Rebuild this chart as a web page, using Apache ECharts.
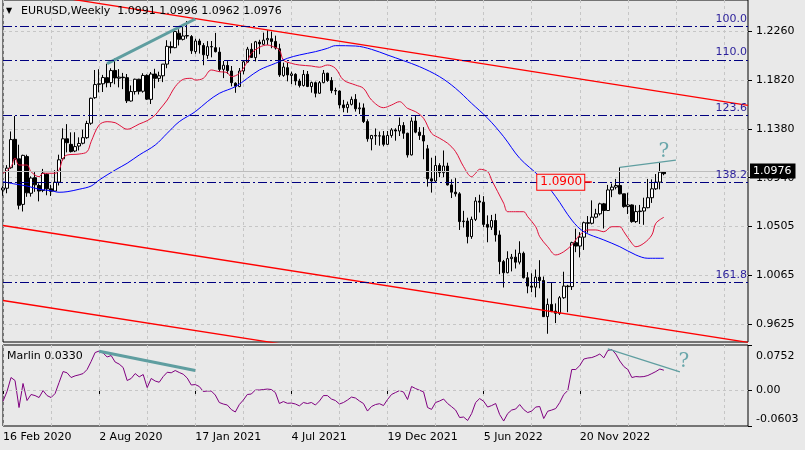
<!DOCTYPE html>
<html><head><meta charset="utf-8">
<script src="https://cdn.jsdelivr.net/npm/echarts@6/dist/echarts.min.js"></script>
<style>html,body{margin:0;padding:0;background:#e9e9e9}#c{width:805px;height:450px}</style>
</head><body><div id="c"></div><script>
// Weekly EURUSD candles [open, high, low, close], first bar = 16 Feb 2020
const ohlc = [
[1.0830,1.0864,1.0778,1.0847],[1.0845,1.1053,1.0800,1.1026],[1.1030,1.1356,1.1020,1.1283],[1.1285,1.1495,1.1055,1.1106],
[1.1110,1.1237,1.0655,1.0692],[1.0700,1.1147,1.0636,1.1141],[1.1130,1.1147,1.0768,1.0804],[1.0800,1.0952,1.0770,1.0937],
[1.0940,1.0990,1.0813,1.0876],[1.0870,1.0889,1.0727,1.0820],[1.0825,1.1019,1.0810,1.0980],[1.0970,1.0980,1.0782,1.0840],
[1.0840,1.0876,1.0775,1.0818],[1.0820,1.1008,1.0815,1.0900],[1.0900,1.1147,1.0870,1.1101],[1.1110,1.1384,1.1095,1.1290],
[1.1290,1.1422,1.1168,1.1255],[1.1240,1.1348,1.1167,1.1175],[1.1180,1.1349,1.1170,1.1220],[1.1225,1.1303,1.1185,1.1248],
[1.1250,1.1372,1.1240,1.1300],[1.1300,1.1452,1.1290,1.1428],[1.1430,1.1660,1.1416,1.1655],[1.1660,1.1909,1.1650,1.1778],
[1.1780,1.1916,1.1708,1.1785],[1.1785,1.1865,1.1711,1.1841],[1.1840,1.1966,1.1753,1.1795],[1.1795,1.1925,1.1755,1.1904],
[1.1905,1.2011,1.1781,1.1838],[1.1835,1.1917,1.1753,1.1845],[1.1845,1.1883,1.1737,1.1840],[1.1840,1.1873,1.1612,1.1632],
[1.1630,1.1770,1.1625,1.1715],[1.1715,1.1831,1.1688,1.1826],[1.1826,1.1830,1.1689,1.1718],[1.1718,1.1880,1.1705,1.1860],
[1.1860,1.1870,1.1640,1.1647],[1.1645,1.1891,1.1603,1.1873],[1.1873,1.1920,1.1745,1.1834],[1.1834,1.1894,1.1802,1.1857],
[1.1857,1.1963,1.1800,1.1962],[1.1962,1.2177,1.1925,1.2122],[1.2120,1.2166,1.2058,1.2110],[1.2110,1.2273,1.2105,1.2255],
[1.2240,1.2275,1.2130,1.2185],[1.2185,1.2310,1.2175,1.2215],[1.2215,1.2349,1.2191,1.2219],[1.2210,1.2223,1.2054,1.2082],
[1.2075,1.2190,1.2055,1.2170],[1.2170,1.2190,1.2057,1.2136],[1.2130,1.2151,1.1952,1.2046],[1.2040,1.2169,1.2010,1.2119],
[1.2120,1.2170,1.2023,1.2117],[1.2110,1.2243,1.2067,1.2074],[1.2070,1.2113,1.1894,1.1915],[1.1915,1.1990,1.1836,1.1952],
[1.1950,1.1989,1.1874,1.1904],[1.1900,1.1945,1.1762,1.1795],[1.1790,1.1798,1.1704,1.1763],[1.1760,1.1927,1.1755,1.1900],
[1.1900,1.1995,1.1870,1.1983],[1.1980,1.2117,1.1975,1.2097],[1.2095,1.2150,1.2017,1.2022],[1.2020,1.2171,1.1986,1.2163],
[1.2160,1.2181,1.2051,1.2144],[1.2140,1.2245,1.2135,1.2178],[1.2180,1.2266,1.2135,1.2193],[1.2190,1.2255,1.2105,1.2166],
[1.2166,1.2218,1.2093,1.2107],[1.2100,1.2145,1.1847,1.1865],[1.1860,1.1975,1.1848,1.1936],[1.1930,1.1975,1.1807,1.1865],
[1.1860,1.1895,1.1782,1.1874],[1.1870,1.1880,1.1772,1.1810],[1.1810,1.1830,1.1752,1.1770],[1.1770,1.1909,1.1760,1.1869],
[1.1870,1.1900,1.1755,1.1761],[1.1760,1.1805,1.1705,1.1796],[1.1795,1.1805,1.1663,1.1700],[1.1700,1.1810,1.1695,1.1795],
[1.1795,1.1909,1.1790,1.1880],[1.1880,1.1885,1.1802,1.1815],[1.1815,1.1845,1.1700,1.1725],[1.1725,1.1750,1.1685,1.1720],
[1.1720,1.1725,1.1563,1.1595],[1.1595,1.1640,1.1529,1.1570],[1.1570,1.1625,1.1524,1.1600],[1.1600,1.1670,1.1590,1.1645],
[1.1645,1.1692,1.1535,1.1560],[1.1560,1.1616,1.1513,1.1568],[1.1568,1.1608,1.1432,1.1445],[1.1445,1.1465,1.1264,1.1290],
[1.1290,1.1325,1.1186,1.1320],[1.1320,1.1383,1.1235,1.1315],[1.1315,1.1355,1.1228,1.1317],[1.1317,1.1360,1.1222,1.1240],
[1.1240,1.1360,1.1235,1.1320],[1.1320,1.1386,1.1300,1.1370],[1.1370,1.1385,1.1273,1.1360],[1.1360,1.1482,1.1315,1.1410],
[1.1410,1.1440,1.1290,1.1340],[1.1340,1.1345,1.1121,1.1145],[1.1145,1.1483,1.1140,1.1450],[1.1450,1.1495,1.1340,1.1350],
[1.1350,1.1395,1.1280,1.1320],[1.1320,1.1395,1.1106,1.1270],[1.1200,1.1235,1.0860,1.0930],[1.0930,1.1120,1.0806,1.0910],
[1.0910,1.1137,1.0900,1.1050],[1.1050,1.1070,1.0945,1.0985],[1.0985,1.1185,1.0945,1.1045],[1.1045,1.1075,1.0870,1.0875],
[1.0875,1.0925,1.0757,1.0810],[1.0810,1.0936,1.0770,1.0795],[1.0795,1.0810,1.0470,1.0545],[1.0545,1.0642,1.0492,1.0550],
[1.0550,1.0580,1.0349,1.0410],[1.0410,1.0590,1.0390,1.0565],[1.0565,1.0765,1.0550,1.0730],[1.0730,1.0787,1.0627,1.0720],
[1.0720,1.0774,1.0495,1.0520],[1.0520,1.0601,1.0359,1.0495],[1.0495,1.0605,1.0470,1.0555],[1.0555,1.0615,1.0365,1.0425],
[1.0425,1.0465,1.0072,1.0185],[1.0185,1.0200,0.9952,1.0085],[1.0085,1.0278,1.0080,1.0212],[1.0212,1.0254,1.0097,1.0225],
[1.0225,1.0293,1.0123,1.0180],[1.0180,1.0368,1.0160,1.0260],[1.0260,1.0275,1.0033,1.0040],[1.0040,1.0090,0.9900,0.9965],
[0.9965,1.0080,0.9910,0.9955],[0.9955,1.0114,0.9864,1.0045],[1.0045,1.0198,0.9945,1.0015],[1.0015,1.0051,0.9687,0.9690],
[0.9690,0.9853,0.9536,0.9800],[0.9800,0.9999,0.9730,0.9740],[0.9740,0.9809,0.9632,0.9720],[0.9720,0.9875,0.9705,0.9860],
[0.9860,1.0094,0.9850,0.9965],[0.9965,0.9976,0.9730,0.9960],[0.9960,1.0364,0.9930,1.0355],[1.0355,1.0481,1.0270,1.0325],
[1.0325,1.0450,1.0223,1.0405],[1.0405,1.0545,1.0290,1.0535],[1.0535,1.0595,1.0445,1.0530],[1.0530,1.0736,1.0520,1.0585],
[1.0585,1.0660,1.0575,1.0615],[1.0615,1.0715,1.0600,1.0705],[1.0705,1.0713,1.0483,1.0645],[1.0645,1.0875,1.0640,1.0830],
[1.0830,1.0887,1.0765,1.0855],[1.0855,1.0929,1.0835,1.0870],[1.0870,1.1033,1.0790,1.0795],[1.0795,1.0795,1.0670,1.0680],
[1.0680,1.0805,1.0613,1.0695],[1.0695,1.0700,1.0535,1.0545],[1.0545,1.0692,1.0533,1.0635],[1.0635,1.0695,1.0524,1.0640],
[1.0640,1.0760,1.0516,1.0670],[1.0670,1.0929,1.0665,1.0760],[1.0760,1.0925,1.0713,1.0840],[1.0840,1.0973,1.0830,1.0900],
[1.0900,1.1075,1.0835,1.0990],[1.0991,1.0996,1.0962,1.0976]
];
// Red moving average [bar index, price]
const redMA = [[0,1.0980],[2,1.1039],[3,1.1117],[4,1.1054],[6,1.1054],[7,1.0994],[9,1.0949],[10,1.0980],[13,1.0980],[14,1.1009],[15,1.1115],[16,1.1144],[19,1.1153],[21,1.1174],[22,1.1264],[24,1.1414],[26,1.1444],[28,1.1435],[29,1.1414],[31,1.1376],[32,1.1385],[34,1.1423],[36,1.1453],[38,1.1504],[39,1.1549],[41,1.1639],[43,1.1759],[45,1.1825],[47,1.1834],[48,1.1819],[50,1.1834],[52,1.1909],[54,1.1894],[56,1.1885],[57,1.1849],[59,1.1879],[61,1.1984],[62,1.2059],[64,1.2113],[66,1.2134],[67,1.2125],[69,1.2089],[70,1.1999],[72,1.1969],[74,1.1954],[77,1.1945],[79,1.1934],[81,1.1954],[83,1.1924],[85,1.1819],[88,1.1774],[90,1.1744],[92,1.1639],[95,1.1570],[97,1.1594],[99,1.1624],[101,1.1564],[103,1.1534],[105,1.1475],[107,1.1340],[109,1.1295],[111,1.1250],[113,1.1174],[115,1.1039],[117,1.0949],[118,1.0980],[119,1.1016],[121,1.0994],[122,1.0919],[125,1.0710],[126,1.0634],[128,1.0634],[130,1.0634],[131,1.0589],[133,1.0499],[134,1.0409],[136,1.0319],[138,1.0245],[140,1.0274],[142,1.0335],[144,1.0425],[146,1.0470],[148,1.0470],[150,1.0454],[152,1.0499],[154,1.0499],[155,1.0454],[157,1.0350],[158,1.0319],[160,1.0350],[162,1.0425],[163,1.0530],[165,1.0584]];
// Blue moving average [bar index, price]
const blueMA = [[0,1.0904],[3,1.0883],[6,1.0865],[9,1.0836],[12,1.0823],[14,1.0809],[16,1.0814],[19,1.0836],[22,1.0865],[24,1.0919],[28,1.1009],[31,1.1070],[34,1.1144],[38,1.1234],[41,1.1340],[44,1.1444],[48,1.1534],[51,1.1624],[54,1.1699],[58,1.1759],[61,1.1834],[64,1.1909],[68,1.1969],[71,1.2014],[74,1.2044],[78,1.2074],[81,1.2104],[83,1.2128],[88,1.2125],[92,1.2095],[96,1.2044],[100,1.1993],[104,1.1939],[109,1.1849],[113,1.1744],[117,1.1609],[121,1.1475],[125,1.1309],[129,1.1115],[134,1.0949],[138,1.0769],[142,1.0559],[145,1.0454],[150,1.0380],[154,1.0319],[158,1.0245],[161,1.0215],[165,1.0215]];
// Marlin oscillator, one value per bar
const marlin = [-0.0189,-0.0026,0.0208,0.0158,-0.0294,0.0108,-0.0177,-0.0076,-0.0094,-0.0127,-0.0010,-0.0094,-0.0127,-0.0060,0.0124,0.0308,0.0287,0.0208,0.0236,0.0253,
0.0274,0.0342,0.0476,0.0626,0.0651,0.0618,0.0551,0.0576,0.0467,0.0433,0.0375,0.0158,0.0192,0.0274,0.0219,0.0258,0.0040,0.0192,0.0149,0.0129,
0.0224,0.0296,0.0287,0.0325,0.0292,0.0263,0.0199,0.0083,0.0090,0.0058,-0.0026,-0.0018,-0.0018,-0.0085,-0.0210,-0.0235,-0.0252,-0.0328,-0.0369,-0.0244,
-0.0169,-0.0076,-0.0068,-0.0001,-0.0001,0.0007,0.0015,0.0007,-0.0043,-0.0227,-0.0194,-0.0223,-0.0219,-0.0235,-0.0266,-0.0210,-0.0227,-0.0210,-0.0252,-0.0185,
-0.0094,-0.0094,-0.0152,-0.0177,-0.0235,-0.0210,-0.0169,-0.0119,-0.0135,-0.0185,-0.0227,-0.0353,-0.0277,-0.0244,-0.0230,-0.0261,-0.0160,-0.0076,-0.0043,-0.0010,
-0.0035,-0.0160,0.0058,0.0024,-0.0005,-0.0032,-0.0294,-0.0325,-0.0210,-0.0185,-0.0152,-0.0227,-0.0280,-0.0336,-0.0461,-0.0453,-0.0511,-0.0395,-0.0210,-0.0144,
-0.0189,-0.0286,-0.0261,-0.0227,-0.0411,-0.0520,-0.0395,-0.0336,-0.0319,-0.0244,-0.0328,-0.0378,-0.0353,-0.0286,-0.0277,-0.0478,-0.0356,-0.0336,-0.0311,-0.0210,
-0.0076,-0.0010,0.0342,0.0342,0.0408,0.0517,0.0534,0.0542,0.0567,0.0601,0.0537,0.0660,0.0676,0.0601,0.0484,0.0392,0.0342,0.0208,0.0224,0.0219,
0.0224,0.0242,0.0274,0.0308,0.0350,0.0330];
const priceTicks = [1.2260,1.1820,1.1380,1.0940,1.0505,1.0065,0.9625];
const marlinTicks = [0.0752,0,-0.0603];
const fibLevels = [1.2329,1.1954,1.1450,1.0904,1.0029];
const fibNames = ['100.0','110.0','123.6','138.2','161.8'];
const channelUpper = [[17,1.2547],[186,1.1590]];
const channelMid = [[0,1.0510],[186,0.9458]];
const channelLow = [[0,0.9835],[70,0.9441]];
const priceDiv1 = [[26,1.1966],[48,1.2368]];
const priceDiv2 = [[154,1.1033],[168,1.1098]];
const marlinDiv1 = [[24,0.0647],[48,0.0325]];
const marlinDiv2 = [[151,0.0688],[169,0.0303]];
const lastBid = 1.0976;
const levelTag = 1.0900;
const nWeeks = 187;

const MONTHS=['Jan','Feb','Mar','Apr','May','Jun','Jul','Aug','Sep','Oct','Nov','Dec'];
const dates=[];
for(let i=0;i<nWeeks;i++){const d=new Date(Date.UTC(2020,1,16+7*i));dates.push(d.getUTCDate()+' '+MONTHS[d.getUTCMonth()]+' '+d.getUTCFullYear());}

const F='DejaVu Sans';
const TEAL='#5f9ea0';
const gridLine={show:true,lineStyle:{color:'#c6c6c6',type:[3,3],width:1}};
const labelIdx=(i)=>i%24===0 && i<ohlc.length;
const chart=echarts.init(document.getElementById('c'),null,{renderer:'canvas'});
const trend=(data,color,width,extra)=>Object.assign({type:'line',data:data,xAxisIndex:0,yAxisIndex:0,showSymbol:false,symbol:'none',silent:true,z:4,lineStyle:{color:color,width:width}},extra||{});

chart.setOption({
  animation:false,
  backgroundColor:'#e9e9e9',
  textStyle:{fontFamily:F},
  title:[
    {text:'\u25BC',left:6,top:7,padding:0,textStyle:{fontSize:8,fontWeight:'normal',color:'#000',fontFamily:F}},
    {text:'EURUSD,Weekly  1.0991 1.0996 1.0962 1.0976',left:21,top:6,padding:0,textStyle:{fontSize:11,fontWeight:'normal',color:'#000',fontFamily:F}},
    {text:'Marlin 0.0330',left:7,top:351,padding:0,textStyle:{fontSize:11,fontWeight:'normal',color:'#000',fontFamily:F}}
  ],
  grid:[
    {left:3,right:57,top:0,height:342,show:true,borderColor:'#000',borderWidth:1,backgroundColor:'transparent'},
    {left:3,right:57,top:345,height:81,show:true,borderColor:'#000',borderWidth:1,backgroundColor:'transparent'}
  ],
  xAxis:[
    {type:'category',data:dates,gridIndex:0,boundaryGap:false,axisLine:{show:false},axisTick:{show:false},axisLabel:{show:false},splitLine:Object.assign({interval:11},gridLine)},
    {type:'category',data:dates,gridIndex:1,boundaryGap:false,axisLine:{show:false},
     axisTick:{show:true,interval:labelIdx,length:4,lineStyle:{color:'#000'}},
     axisLabel:{interval:labelIdx,align:'left',margin:6,fontSize:11,color:'#000',fontFamily:F},
     splitLine:Object.assign({interval:11},gridLine)}
  ],
  yAxis:[
    {type:'value',gridIndex:0,position:'right',min:0.94617,max:1.25389,axisLine:{show:false},
     axisTick:{show:true,length:4,customValues:priceTicks,lineStyle:{color:'#000'}},
     axisLabel:{customValues:priceTicks,formatter:v=>v.toFixed(4),fontSize:11,color:'#000',margin:8,fontFamily:F},
     splitLine:gridLine},
    {type:'value',gridIndex:1,position:'right',min:-0.0603,max:0.0752,axisLine:{show:false},
     axisTick:{show:true,length:4,customValues:marlinTicks,lineStyle:{color:'#000'}},
     axisLabel:{customValues:marlinTicks,fontSize:11,color:'#000',margin:8,fontFamily:F,
       formatter:v=>v===0?'0.00':(v>0?'{t|'+v.toFixed(4)+'}':'{b|'+v.toFixed(4)+'}'),
       rich:{t:{padding:[22,0,0,0],fontSize:11,fontFamily:F,color:'#000'},b:{padding:[0,0,14,0],fontSize:11,fontFamily:F,color:'#000'}}},
     splitLine:{show:false}}
  ],
  series:[
    {type:'candlestick',xAxisIndex:0,yAxisIndex:0,barWidth:3,z:3,
     data:ohlc.map(r=>[r[0],r[3],r[2],r[1]]),
     itemStyle:{color:'#ffffff',color0:'#000000',borderColor:'#000000',borderColor0:'#000000',borderWidth:1},
     markLine:{symbol:'none',silent:true,animation:false,z:5,
       data:[].concat(
         fibLevels.map((v,i)=>({yAxis:v,lineStyle:{color:'#000080',type:[9,3,2,3],width:1},
           label:{show:true,position:'insideEndTop',formatter:fibNames[i],color:'#2a1f9a',fontSize:11,fontFamily:F,distance:[1,2]}})),
         [{yAxis:lastBid,lineStyle:{color:'#bdbdbd',type:'solid',width:1},
           label:{show:true,position:'end',formatter:lastBid.toFixed(4),backgroundColor:'#000',color:'#fff',fontSize:11,fontFamily:F,padding:[2,4,2,3],distance:2}}],
         [[{coord:[145,levelTag],lineStyle:{color:'#ff0000',width:1.5,type:'solid'},label:{show:false}},{coord:[147,levelTag]}]]
       )},
     markPoint:{silent:true,animation:false,z:6,
       data:[
         {coord:[140,levelTag],symbol:'circle',symbolSize:1,itemStyle:{color:'transparent'},
          label:{show:true,position:'inside',offset:[-3,0],formatter:levelTag.toFixed(4),color:'#ff0000',fontSize:12,fontFamily:F,
            borderColor:'#ff0000',borderWidth:1,padding:[2,2,1,3],backgroundColor:'#e9e9e9'}},
         {coord:[165,1.1171],symbol:'circle',symbolSize:1,itemStyle:{color:'transparent'},
          label:{show:true,position:'inside',formatter:'?',color:'#6aa7ab',fontSize:20,fontFamily:'DejaVu Serif'}}
       ]}
    },
    trend(redMA,'#e0103a',1,{smooth:0.35}),
    trend(blueMA,'#0000ff',1,{smooth:0.35}),
    trend(channelUpper,'#ff0000',1.3),
    trend(channelMid,'#ff0000',1.3),
    trend(channelLow,'#ff0000',1.3),
    trend(priceDiv1,TEAL,3),
    trend(priceDiv2,TEAL,1.2),
    {type:'line',xAxisIndex:1,yAxisIndex:1,data:marlin,showSymbol:false,symbol:'none',silent:true,z:3,
     lineStyle:{color:'#800080',width:1},
     markLine:{symbol:'none',silent:true,animation:false,data:[{yAxis:0,lineStyle:{color:'#c6c6c6',type:[3,3],width:1},label:{show:false}}]}},
    {type:'line',xAxisIndex:1,yAxisIndex:1,data:marlinDiv1,showSymbol:false,symbol:'none',silent:true,z:4,lineStyle:{color:TEAL,width:3}},
    {type:'line',xAxisIndex:1,yAxisIndex:1,data:marlinDiv2,showSymbol:false,symbol:'none',silent:true,z:4,lineStyle:{color:TEAL,width:1.2},
     markPoint:{silent:true,animation:false,data:[{coord:[170,0.0475],symbol:'circle',symbolSize:1,itemStyle:{color:'transparent'},
       label:{show:true,position:'inside',formatter:'?',color:'#6aa7ab',fontSize:20,fontFamily:'DejaVu Serif'}}]}}
  ]
});
</script></body></html>
